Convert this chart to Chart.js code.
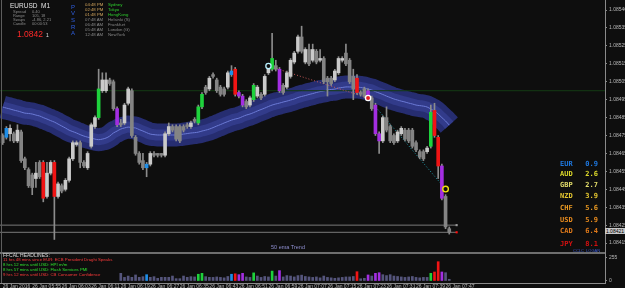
<!DOCTYPE html>
<html>
<head>
<meta charset="utf-8">
<script src="https://cdn.jsdelivr.net/npm/chart.js@4.4.1/dist/chart.umd.min.js"></script>
<style>
  body { margin: 0; background: #0e0e0e; width: 625px; height: 288px; overflow: hidden; position: relative; font-family: "Liberation Sans", Arial, sans-serif; }
  canvas { position: absolute; left: 0; }
  #main { top: 0; }
  #vol { top: 253px; }
  .t { position: absolute; white-space: nowrap; line-height: 1; }
  .m { font-family: "DejaVu Sans Mono", "Liberation Mono", monospace; font-weight: bold; }
</style>
</head>
<body>
<canvas id="main" width="625" height="253" style="width:625px;height:253px"></canvas>
<canvas id="vol" width="625" height="35" style="width:625px;height:35px"></canvas>

<!-- frame lines -->
<div style="position:absolute;left:1px;top:0;width:1px;height:283px;background:#5e5e5e"></div>
<div style="position:absolute;left:0;top:252px;width:605px;height:2px;background:#6e6e6e"></div>

<!-- info panel -->
<div class="t" style="left:10px;top:3px;font-size:6.5px;color:#e4e4e4">EURUSD&nbsp;&nbsp;M1</div>
<div class="t" style="left:13px;top:10.3px;font-size:4px;color:#8c8c8c">Spread</div>
<div class="t" style="left:32px;top:10.3px;font-size:4px;color:#8c8c8c">0.40</div>
<div class="t" style="left:13px;top:14.3px;font-size:4px;color:#8c8c8c">Range</div>
<div class="t" style="left:32px;top:14.3px;font-size:4px;color:#8c8c8c">105, 18</div>
<div class="t" style="left:13px;top:18.3px;font-size:4px;color:#8c8c8c">Swaps</div>
<div class="t" style="left:32px;top:18.3px;font-size:4px;color:#8c8c8c">-4.86, 2.21</div>
<div class="t" style="left:13px;top:22.3px;font-size:4px;color:#8c8c8c">Candle</div>
<div class="t" style="left:32px;top:22.3px;font-size:4px;color:#8c8c8c">00:00:53</div>
<div class="t" style="left:17px;top:29.8px;font-size:8.5px;color:#ff2a2a">1.0842</div>
<div class="t" style="left:46px;top:32.5px;font-size:5px;color:#e0e0e0">1</div>
<div class="t" style="left:71px;top:3.7px;font-size:6px;color:#2f5fe0">P</div>
<div class="t" style="left:71px;top:10.3px;font-size:6px;color:#2f5fe0">V</div>
<div class="t" style="left:71px;top:17px;font-size:6px;color:#2f5fe0">S</div>
<div class="t" style="left:71px;top:23.7px;font-size:6px;color:#2f5fe0">R</div>
<div class="t" style="left:71px;top:30.3px;font-size:6px;color:#2f5fe0">A</div>
<div class="t" style="left:85px;top:2.5px;font-size:4.3px;color:#d2a45c">04:48 PM</div>
<div class="t" style="left:108px;top:2.5px;font-size:4.3px;color:#2ed02e">Sydney</div>
<div class="t" style="left:85px;top:7.8px;font-size:4.3px;color:#d2a45c">02:48 PM</div>
<div class="t" style="left:108px;top:7.8px;font-size:4.3px;color:#2ed02e">Tokyo</div>
<div class="t" style="left:85px;top:12.8px;font-size:4.3px;color:#d2a45c">01:48 PM</div>
<div class="t" style="left:108px;top:12.8px;font-size:4.3px;color:#2ed02e">HongKong</div>
<div class="t" style="left:85px;top:17.8px;font-size:4.3px;color:#8a8a8a">07:48 AM</div>
<div class="t" style="left:108px;top:17.8px;font-size:4.3px;color:#8a8a8a">Helsinki (S)</div>
<div class="t" style="left:85px;top:22.8px;font-size:4.3px;color:#8a8a8a">06:48 AM</div>
<div class="t" style="left:108px;top:22.8px;font-size:4.3px;color:#8a8a8a">Frankfurt</div>
<div class="t" style="left:85px;top:27.8px;font-size:4.3px;color:#8a8a8a">05:48 AM</div>
<div class="t" style="left:108px;top:27.8px;font-size:4.3px;color:#8a8a8a">London (G)</div>
<div class="t" style="left:85px;top:32.8px;font-size:4.3px;color:#8a8a8a">12:48 AM</div>
<div class="t" style="left:108px;top:32.8px;font-size:4.3px;color:#8a8a8a">NewYork</div>

<!-- currency strength -->
<div class="t m" style="left:560px;top:160.5px;font-size:7px;color:#1e78e0">EUR&nbsp;&nbsp;&nbsp;0.9</div>
<div class="t m" style="left:560px;top:171.2px;font-size:7px;color:#dcd82a">AUD&nbsp;&nbsp;&nbsp;2.6</div>
<div class="t m" style="left:560px;top:182.2px;font-size:7px;color:#e2dc6a">GBP&nbsp;&nbsp;&nbsp;2.7</div>
<div class="t m" style="left:560px;top:193.2px;font-size:7px;color:#e6c830">NZD&nbsp;&nbsp;&nbsp;3.9</div>
<div class="t m" style="left:560px;top:204.8px;font-size:7px;color:#ea9a22">CHF&nbsp;&nbsp;&nbsp;5.6</div>
<div class="t m" style="left:560px;top:216.5px;font-size:7px;color:#ea8c1e">USD&nbsp;&nbsp;&nbsp;5.9</div>
<div class="t m" style="left:560px;top:228.2px;font-size:7px;color:#e07a1a">CAD&nbsp;&nbsp;&nbsp;6.4</div>
<div class="t m" style="left:560px;top:240.5px;font-size:7px;color:#d41010">JPY&nbsp;&nbsp;&nbsp;8.1</div>
<div class="t" style="left:573px;top:248.5px;font-size:4px;color:#3b5bd0">CCLC&nbsp;&nbsp;LOGAN</div>

<div class="t" style="left:271px;top:245.2px;font-size:5.5px;color:#8f8fd0">50 ema Trend</div>

<!-- current price box -->
<div class="t" style="left:605px;top:228px;width:20px;height:6px;background:#c8c8c8;color:#000;font-size:5px;line-height:6px;text-align:center">1.08421</div>

<!-- headlines -->
<div class="t" style="left:3px;top:252.5px;font-size:5px;color:#d8d8d8">FFCAL HEADLINES:</div>
<div class="t" style="left:3px;top:257.8px;font-size:4.3px;color:#ff3a3a">11 hrs 48 mins since EUR: ECB President Draghi Speaks</div>
<div class="t" style="left:3px;top:262.8px;font-size:4.3px;color:#2ee02e">8 hrs 12 mins until USD: HPI m/m</div>
<div class="t" style="left:3px;top:267.8px;font-size:4.3px;color:#2ee02e">8 hrs 57 mins until USD: Flash Services PMI</div>
<div class="t" style="left:3px;top:272.8px;font-size:4.3px;color:#ff3a3a">9 hrs 12 mins until USD: CB Consumer Confidence</div>

<script>
// EURUSD M1 candles, 26 Jan 2016 05:47 .. 07:48
const opens = [1.08475,1.08474,1.08476,1.08476,1.08472,1.08477,1.08462,1.08456,1.08453,1.08451,
  1.08460,1.08460,1.08441,1.08454,1.08460,1.08441,1.08447,1.08445,1.08450,1.08462,
  1.08470,1.08471,1.08460,1.08457,1.08469,1.08480,1.08485,1.08500,1.08500,1.08506,
  1.08505,1.08490,1.08482,1.08482,1.08493,1.08500,1.08474,1.08465,1.08461,1.08457,
  1.08459,1.08465,1.08465,1.08465,1.08464,1.08476,1.08480,1.08480,1.08480,1.08480,
  1.08481,1.08480,1.08484,1.08482,1.08491,1.08502,1.08501,1.08509,1.08506,1.08502,
  1.08501,1.08502,1.08509,1.08512,1.08499,1.08497,1.08494,1.08492,1.08495,1.08497,
  1.08498,1.08498,1.08510,1.08512,1.08514,1.08512,1.08503,1.08502,1.08508,1.08516,
  1.08522,1.08530,1.08516,1.08523,1.08517,1.08522,1.08517,1.08518,1.08507,1.08507,
  1.08506,1.08510,1.08517,1.08521,1.08517,1.08508,1.08507,1.08499,1.08501,1.08500,
  1.08496,1.08492,1.08476,1.08472,1.08485,1.08480,1.08475,1.08472,1.08476,1.08478,
  1.08478,1.08478,1.08471,1.08466,1.08466,1.08466,1.08469,1.08489,1.08474,1.08458,
  1.08441,1.08423];
const highs = [1.08476,1.08480,1.08481,1.08477,1.08481,1.08478,1.08463,1.08457,1.08454,1.08460,
  1.08461,1.08461,1.08460,1.08461,1.08461,1.08449,1.08448,1.08451,1.08463,1.08472,
  1.08472,1.08472,1.08461,1.08466,1.08482,1.08486,1.08512,1.08510,1.08510,1.08507,
  1.08506,1.08491,1.08484,1.08493,1.08502,1.08501,1.08475,1.08466,1.08465,1.08460,
  1.08466,1.08466,1.08465,1.08465,1.08477,1.08482,1.08481,1.08481,1.08481,1.08481,
  1.08482,1.08483,1.08485,1.08492,1.08499,1.08503,1.08508,1.08510,1.08507,1.08503,
  1.08502,1.08511,1.08514,1.08513,1.08500,1.08498,1.08495,1.08497,1.08504,1.08503,
  1.08499,1.08509,1.08515,1.08532,1.08517,1.08513,1.08504,1.08511,1.08518,1.08522,
  1.08531,1.08536,1.08524,1.08526,1.08526,1.08523,1.08523,1.08519,1.08508,1.08508,
  1.08512,1.08519,1.08519,1.08526,1.08518,1.08512,1.08509,1.08500,1.08502,1.08501,
  1.08497,1.08493,1.08477,1.08486,1.08491,1.08481,1.08476,1.08478,1.08480,1.08479,
  1.08479,1.08479,1.08472,1.08467,1.08467,1.08469,1.08492,1.08493,1.08475,1.08459,
  1.08442,1.08424];
const lows = [1.08470,1.08473,1.08472,1.08471,1.08471,1.08460,1.08456,1.08446,1.08442,1.08446,
  1.08451,1.08438,1.08440,1.08453,1.08417,1.08440,1.08443,1.08444,1.08449,1.08461,
  1.08469,1.08457,1.08457,1.08456,1.08468,1.08479,1.08484,1.08499,1.08499,1.08503,
  1.08489,1.08480,1.08480,1.08481,1.08492,1.08474,1.08464,1.08459,1.08456,1.08452,
  1.08458,1.08463,1.08463,1.08463,1.08463,1.08475,1.08477,1.08472,1.08471,1.08477,
  1.08479,1.08479,1.08482,1.08481,1.08490,1.08498,1.08500,1.08507,1.08499,1.08497,
  1.08497,1.08501,1.08508,1.08497,1.08496,1.08491,1.08490,1.08491,1.08494,1.08496,
  1.08495,1.08497,1.08509,1.08511,1.08511,1.08499,1.08498,1.08501,1.08507,1.08515,
  1.08521,1.08521,1.08515,1.08514,1.08516,1.08515,1.08516,1.08504,1.08497,1.08503,
  1.08505,1.08509,1.08516,1.08514,1.08504,1.08495,1.08498,1.08497,1.08496,1.08496,
  1.08489,1.08475,1.08465,1.08471,1.08477,1.08471,1.08470,1.08471,1.08475,1.08472,
  1.08471,1.08468,1.08466,1.08462,1.08461,1.08465,1.08468,1.08474,1.08451,1.08439,
  1.08423,1.08420];
const closes = [1.08471,1.08479,1.08479,1.08472,1.08478,1.08461,1.08457,1.08447,1.08446,1.08454,
  1.08452,1.08440,1.08454,1.08460,1.08441,1.08448,1.08444,1.08450,1.08462,1.08471,
  1.08471,1.08460,1.08458,1.08465,1.08481,1.08485,1.08501,1.08506,1.08506,1.08504,
  1.08490,1.08481,1.08481,1.08492,1.08501,1.08475,1.08465,1.08460,1.08457,1.08459,
  1.08465,1.08464,1.08464,1.08464,1.08476,1.08480,1.08478,1.08473,1.08472,1.08478,
  1.08480,1.08482,1.08483,1.08491,1.08498,1.08499,1.08507,1.08508,1.08500,1.08498,
  1.08498,1.08510,1.08511,1.08498,1.08497,1.08492,1.08491,1.08496,1.08503,1.08502,
  1.08496,1.08508,1.08513,1.08518,1.08512,1.08500,1.08499,1.08510,1.08517,1.08521,
  1.08530,1.08522,1.08523,1.08515,1.08523,1.08516,1.08518,1.08505,1.08505,1.08504,
  1.08511,1.08518,1.08518,1.08515,1.08505,1.08501,1.08499,1.08498,1.08497,1.08497,
  1.08490,1.08476,1.08472,1.08485,1.08478,1.08472,1.08471,1.08477,1.08479,1.08473,
  1.08472,1.08469,1.08467,1.08463,1.08462,1.08468,1.08488,1.08475,1.08458,1.08440,
  1.08424,1.08421];
// PVSRA candle type: w bull, g bear, G bull climax, R bear climax, B bull rising vol, P bear rising vol
const kinds = ('gBwgwggggw' + 'gRwwRwgwww' + 'wggwwwGwwg' + 'gPgwwggggB' + 'wgggwwgggg' + 'gwgGGgwggg' +
  'gwBRPPgwGw' + 'gwwGgPgwww' + 'wgwgwgwggg' + 'wwwgggRggP' + 'gPPwgggwwg' + 'gggggwGRRP' + 'gg').split('');
// tick volume (first bars hidden behind the headlines box)
const volumes = [null,null,null,null,null,null,null,null,null,null,
  null,null,null,null,null,null,null,null,null,null,
  null,null,null,null,null,null,null,null,null,null,
  null,null,85,40,55,41,67,41,48,70,
  41,48,30,41,41,41,55,26,26,55,
  41,48,45,75,85,48,41,40,45,40,
  35,50,75,80,70,85,45,40,90,55,
  40,50,45,110,55,115,45,60,55,45,
  60,65,50,45,40,45,35,55,40,35,
  30,35,40,45,45,50,103,25,30,67,
  55,85,92,70,60,70,55,50,45,40,
  45,50,40,35,40,40,85,100,214,100,
  92,19];
// 50 ema centre line
const ema50 = [1.084909,1.084903,1.084898,1.084892,1.084887,1.084881,1.084875,1.084873,1.084870,1.084864,
  1.084859,1.084850,1.084842,1.084833,1.084825,1.084814,1.084803,1.084792,1.084780,1.084772,
  1.084764,1.084755,1.084747,1.084741,1.084736,1.084730,1.084727,1.084730,1.084736,1.084747,
  1.084764,1.084775,1.084786,1.084792,1.084797,1.084794,1.084792,1.084783,1.084775,1.084766,
  1.084758,1.084755,1.084753,1.084753,1.084753,1.084753,1.084753,1.084753,1.084755,1.084758,
  1.084761,1.084764,1.084766,1.084769,1.084775,1.084780,1.084786,1.084794,1.084803,1.084811,
  1.084820,1.084828,1.084836,1.084842,1.084847,1.084856,1.084864,1.084870,1.084878,1.084887,
  1.084895,1.084903,1.084912,1.084920,1.084926,1.084931,1.084937,1.084942,1.084948,1.084954,
  1.084962,1.084968,1.084973,1.084979,1.084984,1.084990,1.084995,1.084998,1.085004,1.085007,
  1.085009,1.085015,1.085018,1.085021,1.085021,1.085021,1.085021,1.085018,1.085015,1.085009,
  1.085004,1.084995,1.084987,1.084979,1.084970,1.084962,1.084954,1.084948,1.084942,1.084937,
  1.084931,1.084926,1.084920,1.084917,1.084914,1.084909,1.084898,1.084887,1.084870,1.084850,
  1.084831,1.084808];
const priceTicks = [1.08545,1.08535,1.08525,1.08515,1.08505,1.08495,1.08485,1.08475,
  1.08465,1.08455,1.08445,1.08435,1.08425,1.08415];
const priceLabels = ['1.08546','1.08535','1.08525','1.08515','1.08505','1.08495','1.08485','1.08475',
  '1.08465','1.08455','1.08445','1.08435','1.08425','1.08415'];
const timeTicks = [0,8,16,24,32,40,48,56,64,72,80,88,96,104,112,120];
const timeLabels = ['26 Jan 2016','26 Jan 05:55','26 Jan 06:03','26 Jan 06:11','26 Jan 06:19','26 Jan 06:27',
  '26 Jan 06:35','26 Jan 06:43','26 Jan 06:51','26 Jan 06:59','26 Jan 07:07','26 Jan 07:15',
  '26 Jan 07:23','26 Jan 07:31','26 Jan 07:39','26 Jan 07:47'];
const trendDown = [{x: 72, y: 1.085138}, {x: 99, y: 1.084959}];
const trendDown2 = [{x: 99, y: 1.084959}, {x: 120, y: 1.084451}];
const levelLine = 1.08500;
const lowLine = 1.08425;
const bidLine = 1.08421;

const colours = { w: '#cacaca', g: '#848484', G: '#1ed23c', R: '#f01414', B: '#1e8ee8', P: '#a32ee2' };
const axisGray = '#8a8a8a';
const xMin = -0.73, xMax = 163.2;
const idx = opens.map((_, i) => i);

new Chart(document.getElementById('main'), {
  type: 'bar',
  data: {
    datasets: [
      { type: 'scatter', data: [{x: 72, y: 1.085138}], borderColor: '#b8f0ff', backgroundColor: '#0e0e0e', pointRadius: 2.6, borderWidth: 1.3, order: 0 },
      { type: 'scatter', data: [{x: 99, y: 1.084959}], borderColor: '#ffffff', backgroundColor: '#e02020', pointRadius: 2.6, borderWidth: 1.3, order: 0 },
      { type: 'scatter', data: [{x: 120, y: 1.084451}], borderColor: '#f0e010', backgroundColor: '#0e0e0e', pointRadius: 2.8, borderWidth: 1.4, order: 0 },
      {
        label: 'bodies',
        data: idx.map(i => ({x: i, y: [opens[i], closes[i]]})),
        backgroundColor: kinds.map(k => colours[k]),
        barThickness: 3, minBarLength: 1, grouped: false, order: 1
      },
      {
        label: 'wicks',
        data: idx.map(i => ({x: i, y: [lows[i], highs[i]]})),
        backgroundColor: '#8c8c8c',
        barThickness: 1, grouped: false, order: 2
      },
      { type: 'line', data: trendDown, borderColor: '#c85a5a', borderWidth: 1, borderDash: [1, 2], pointRadius: 0, order: 3 },
      { type: 'line', data: trendDown2, borderColor: '#22a0b0', borderWidth: 1, borderDash: [1, 2], pointRadius: 0, order: 3 },
      { type: 'line', data: [{x: xMin, y: lowLine}, {x: 123, y: lowLine}], borderColor: '#7a7a7a', borderWidth: 1,
        pointRadius: [0, 1.5], pointStyle: 'rect', pointBackgroundColor: '#9a9a9a', pointBorderWidth: 0, order: 4 },
      { type: 'line', data: [{x: xMin, y: bidLine}, {x: 123, y: bidLine}], borderColor: '#7a7a7a', borderWidth: 1,
        pointRadius: [0, 1.5], pointStyle: 'rect', pointBackgroundColor: '#ff1010', pointBorderWidth: 0, order: 4 },
      { type: 'line', data: [{x: xMin, y: levelLine}, {x: xMax, y: levelLine}], borderColor: '#143c14', borderWidth: 1, pointRadius: 0, order: 5 },
      { type: 'line', data: idx.map(i => ({x: i, y: ema50[i]})), borderColor: '#6b7ad6', borderWidth: 1, pointRadius: 0, tension: 0.4, order: 6 },
      { type: 'line', data: idx.map(i => ({x: i, y: ema50[i]})), borderColor: '#323b8a', borderWidth: 11, pointRadius: 0, tension: 0.4, borderCapStyle: 'butt', order: 7 },
      { type: 'line', data: idx.map(i => ({x: i, y: ema50[i]})), borderColor: '#262d70', borderWidth: 23, pointRadius: 0, tension: 0.4, borderCapStyle: 'butt', order: 8 }
    ]
  },
  options: {
    responsive: false,
    animation: false,
    layout: { padding: 0, autoPadding: false },
    plugins: { legend: { display: false }, tooltip: { enabled: false } },
    scales: {
      x: { type: 'linear', display: false, min: xMin, max: xMax, offset: false },
      y: {
        position: 'right',
        min: 1.0840945,
        max: 1.0855062,
        afterBuildTicks: axis => { axis.ticks = priceTicks.map(v => ({value: v})); },
        afterFit: axis => { axis.width = 20; axis.paddingTop = 0; axis.paddingBottom = 0; },
        ticks: {
          callback: (value, index) => priceLabels[index],
          color: '#b8b8b8',
          font: { size: 5, family: 'Liberation Sans' },
          padding: 2
        },
        grid: { drawOnChartArea: false, drawTicks: true, tickLength: 2, color: axisGray },
        border: { color: axisGray }
      }
    }
  }
});

new Chart(document.getElementById('vol'), {
  type: 'bar',
  data: {
    datasets: [{
      data: idx.map(i => ({x: i, y: volumes[i]})),
      backgroundColor: kinds.map(k => (k === 'w' || k === 'g') ? '#55557c' : colours[k]),
      barThickness: 2, grouped: false
    }]
  },
  options: {
    responsive: false,
    animation: false,
    layout: { padding: 0, autoPadding: false },
    plugins: { legend: { display: false }, tooltip: { enabled: false } },
    scales: {
      x: {
        type: 'linear', min: xMin, max: xMax, offset: false,
        afterBuildTicks: axis => { axis.ticks = timeTicks.map(v => ({value: v})); },
        afterFit: axis => { axis.height = 5; axis.paddingLeft = 0; axis.paddingRight = 0; },
        ticks: {
          callback: (value, index) => timeLabels[index],
          align: 'start', autoSkip: false, maxRotation: 0,
          color: '#b8b8b8', font: { size: 5, family: 'Liberation Sans' }, padding: 0
        },
        grid: { drawOnChartArea: false, tickLength: 1, color: axisGray },
        border: { color: axisGray }
      },
      y: {
        position: 'right',
        min: -22.2,
        max: 310.4,
        afterBuildTicks: axis => { axis.ticks = [{value: 0}, {value: 255}]; },
        afterFit: axis => { axis.width = 20; axis.paddingTop = 0; axis.paddingBottom = 0; },
        ticks: { color: '#b8b8b8', font: { size: 5, family: 'Liberation Sans' }, padding: 2 },
        grid: { drawOnChartArea: false, tickLength: 2, color: axisGray },
        border: { color: axisGray }
      }
    }
  }
});
</script>
</body>
</html>
